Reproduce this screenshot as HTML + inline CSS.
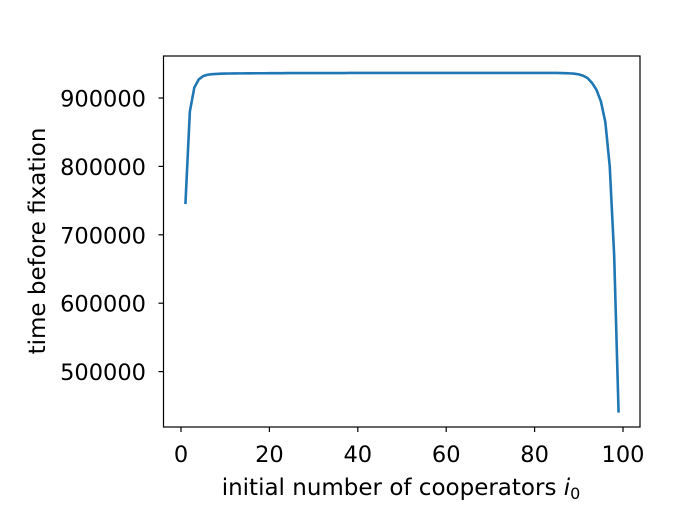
<!DOCTYPE html>
<html><head><meta charset="utf-8"><style>
html,body{margin:0;padding:0;background:#fff}
svg{display:block;font-family:"DejaVu Sans","Liberation Sans",sans-serif}
</style></head><body>
<svg id="chart" width="694" height="525" viewBox="0 0 694 525" xmlns="http://www.w3.org/2000/svg"></svg>
<script>
const xTicks=[0,20,40,60,80,100];
const yTicks=[500000,600000,700000,800000,900000];
const yTickLabels=["500000","600000","700000","800000","900000"];
const xs=[1,2,3,4,5,6,7,8,9,10,11,12,13,14,15,16,17,18,19,20,21,22,23,24,25,26,27,28,29,30,31,32,33,34,35,36,37,38,39,40,41,42,43,44,45,46,47,48,49,50,51,52,53,54,55,56,57,58,59,60,61,62,63,64,65,66,67,68,69,70,71,72,73,74,75,76,77,78,79,80,81,82,83,84,85,86,87,88,89,90,91,92,93,94,95,96,97,98,99];
const times=[745000,880000,915000,927000,932000,934000,934800,935200,935500,935700,935800,935900,936000,936000,936100,936100,936200,936200,936200,936300,936300,936300,936300,936400,936400,936400,936400,936400,936500,936500,936500,936500,936500,936500,936500,936500,936500,936600,936600,936600,936600,936600,936600,936600,936600,936600,936600,936600,936600,936600,936600,936600,936600,936600,936600,936600,936600,936600,936600,936600,936600,936600,936600,936600,936700,936700,936700,936700,936700,936700,936700,936700,936700,936700,936700,936700,936700,936700,936700,936700,936700,936700,936700,936700,936600,936500,936300,936000,935500,934500,932500,929000,922000,912000,895000,865000,800000,670000,440000];
const svg=document.getElementById('chart');
const NS='http://www.w3.org/2000/svg';
const L=163.5,R=640,T=56,B=427;
const FS='22.5px';
const TFS='23px';
const xS=v=>181+(v)*4.42;
const yS=v=>98+(900000-v)*0.000684;
function mk(t,a){const e=document.createElementNS(NS,t);for(const k in a)e.setAttribute(k,a[k]);svg.appendChild(e);return e;}
let frame=mk('rect',{x:L,y:T,width:R-L,height:B-T,fill:'none',stroke:'#000','stroke-width':1.2});


xTicks.forEach(v=>{
 const x=xS(v);
 const t=mk('line',{x1:x,x2:x,y1:B,y2:B+5,stroke:'#000','stroke-width':1.2});
 
 
 const l=mk('text',{x:x,y:462,'text-anchor':'middle','font-size':FS,fill:'#000'});
 l.textContent=String(v);
 
 
});
yTicks.forEach((v,i)=>{
 const y=yS(v);
 const t=mk('line',{x1:L-5,x2:L,y1:y,y2:y,stroke:'#000','stroke-width':1.2});
 
 
 const l=mk('text',{x:146,y:y+8.5,'text-anchor':'end','font-size':FS,fill:'#000'});
 l.textContent=yTickLabels[i];
 
 
});
const d=xs.map((x,i)=>(i?'L':'M')+xS(x).toFixed(2)+','+yS(times[i]).toFixed(2)).join('');
const p=mk('path',{d:d,fill:'none',stroke:'#1f77b4','stroke-width':2.6,'stroke-linejoin':'round'});


const xt=mk('text',{x:401,y:495,'text-anchor':'middle','font-size':TFS,fill:'#000'});
xt.innerHTML='initial number of cooperators <tspan font-style="italic">i</tspan><tspan font-size="16px" dy="4">0</tspan>';


const yt=mk('text',{x:0,y:0,'text-anchor':'middle','font-size':TFS,fill:'#000',transform:'translate(45,241) rotate(-90)'});
yt.textContent='time before fixation';


</script>
</body></html>
